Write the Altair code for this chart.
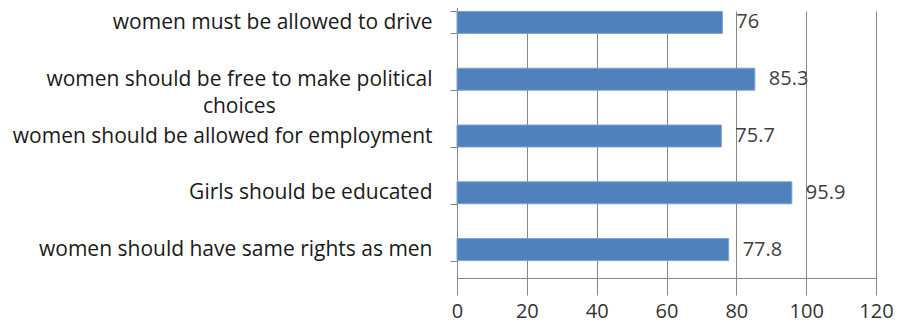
import altair as alt
import pandas as pd

categories = [
    "women must be allowed to drive",
    "women should be free to make political choices",
    "women should be allowed for employment",
    "Girls should be educated",
    "women should have same rights as men",
]
values = [76, 85.3, 75.7, 95.9, 77.8]
value_labels = ["76", "85.3", "75.7", "95.9", "77.8"]
x_ticks = [0, 20, 40, 60, 80, 100, 120]

df = pd.DataFrame({"category": categories, "value": values, "label": value_labels})

FONT = "Open Sans"
GRAY = "#868686"
pad = "\u00a0" * 26 + "\u2800"
label_expr = (
    f"datum.value == '{categories[1]}' ? "
    f"['women should be free to make political', 'choices{pad}'] : datum.value"
)

y = alt.Y(
    "category:N",
    sort=categories,
    title=None,
    scale=alt.Scale(range=[-17, 267], paddingInner=0.613, paddingOuter=0.3065),
    axis=alt.Axis(
        labelExpr=label_expr,
        labelFont=FONT,
        labelFontSize=21,
        labelColor="#1a1a1a",
        labelPadding=18,
        labelLimit=0,
        labelLineHeight=27,
        labelAlign="right",
        tickSize=7,
        tickBand="extent",
        tickColor=GRAY,
        domainColor=GRAY,
        grid=False,
    ),
)

x = alt.X(
    "value:Q",
    title=None,
    scale=alt.Scale(domain=[0, 120], nice=False),
    axis=alt.Axis(
        values=x_ticks,
        grid=True,
        gridColor=GRAY,
        domainColor=GRAY,
        tickColor=GRAY,
        tickSize=7,
        labelFont=FONT,
        labelFontSize=20,
        labelColor="#333333",
        labelPadding=16,
        labelFlush=False,
    ),
)

bars = alt.Chart(df).mark_bar(color="#4F81BD", stroke="#7DA1D0", strokeWidth=1).encode(x=x, y=y)
texts = alt.Chart(df).mark_text(
    align="left", baseline="middle", dx=14, font=FONT, fontSize=20, color="#404040"
).encode(x="value:Q", y=alt.Y("category:N", sort=categories), text="label:N")

chart = (
    alt.layer(bars, texts)
    .properties(
        width=419,
        height=267,
        padding={"left": 449, "top": 3, "right": 17, "bottom": 40},
        autosize=alt.AutoSizeParams(type="none"),
    )
    .configure_view(stroke=None)
)

chart.save("out.html", embed_options={"renderer": "svg", "actions": False})
